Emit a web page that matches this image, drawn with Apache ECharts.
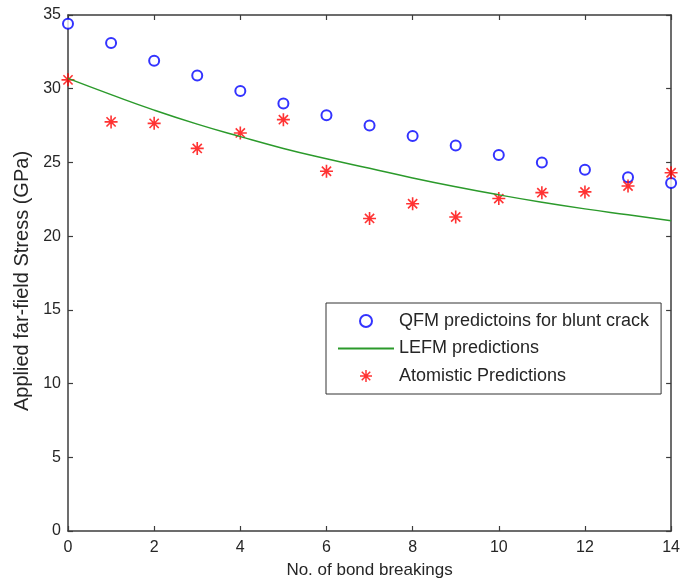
<!DOCTYPE html>
<html>
<head>
<meta charset="utf-8">
<script src="https://cdn.jsdelivr.net/npm/echarts@6/dist/echarts.min.js"></script>
<style>
html,body{margin:0;padding:0;background:#fff;}
#chart{width:683px;height:588px;}
</style>
</head>
<body>
<div id="chart"></div>
<script>
// ---- data ----
var bondBreakings = [0,1,2,3,4,5,6,7,8,9,10,11,12,13,14];
var qfmBlunt = [34.4, 33.1, 31.9, 30.9, 29.85, 29.0, 28.2, 27.5, 26.8, 26.15, 25.5, 25.0, 24.5, 24.0, 23.6];
var lefm = [30.7, 29.6, 28.55, 27.6, 26.75, 25.95, 25.25, 24.6, 23.95, 23.35, 22.8, 22.3, 21.85, 21.45, 21.05];
var atomistic = [30.6, 27.75, 27.65, 25.95, 27.0, 27.9, 24.4, 21.2, 22.2, 21.3, 22.55, 22.95, 23.0, 23.4, 24.3];
var seriesNames = ['QFM predictoins for blunt crack', 'LEFM predictions', 'Atomistic Predictions'];
var xTitle = 'No. of bond breakings';
var yTitle = 'Applied far-field Stress (GPa)';

function pairs(xs, ys){ return xs.map(function(x,i){ return [x, ys[i]]; }); }

var FONT = 'Liberation Sans, Arial, sans-serif';
var AX = '#3c3c3c';
var TXT = '#262626';
var asterisk = 'path://M0 10.5H24V13.5H0Z M10.5 0H13.5V24H10.5Z M4.57 2.45L21.55 19.43L19.43 21.55L2.45 4.57Z M2.45 19.43L19.43 2.45L21.55 4.57L4.57 21.55Z';

var chart = echarts.init(document.getElementById('chart'), null, {renderer:'canvas'});
var axisCommon = {
  axisLine:{show:true, onZero:false, lineStyle:{color:AX, width:1.5}},
  axisTick:{show:true, inside:true, length:5, lineStyle:{color:AX, width:1.2}},
  splitLine:{show:false}
};
chart.setOption({
  animation:false,
  backgroundColor:'#fff',
  grid:{left:68, right:9, top:15, bottom:57, containLabel:false},
  xAxis:[
    Object.assign({type:'value', position:'bottom', min:0, max:14, interval:2,
      name:xTitle, nameLocation:'middle', nameGap:31,
      nameTextStyle:{fontFamily:FONT, fontSize:17, color:TXT},
      axisLabel:{margin:9, fontFamily:FONT, fontSize:16, color:TXT}}, axisCommon),
    Object.assign({type:'value', position:'top', min:0, max:14, interval:2,
      axisLabel:{show:false}}, axisCommon)
  ],
  yAxis:[
    Object.assign({type:'value', position:'left', min:0, max:35, interval:5,
      name:yTitle, nameLocation:'middle', nameGap:36,
      nameTextStyle:{fontFamily:FONT, fontSize:20, color:TXT, padding:[0,16,0,0]},
      axisLabel:{margin:7, fontFamily:FONT, fontSize:16, color:TXT}}, axisCommon),
    Object.assign({type:'value', position:'right', min:0, max:35, interval:5,
      axisLabel:{show:false}}, axisCommon)
  ],
  legend:{
    orient:'vertical', left:326, top:303,
    padding:[9,12,9,11], itemGap:9.5, itemWidth:56, itemHeight:12,
    backgroundColor:'#fff', borderColor:'#333', borderWidth:1,
    textStyle:{fontFamily:FONT, fontSize:18, color:TXT},
    data:[
      {name:seriesNames[0]},
      {name:seriesNames[1], itemStyle:{color:'rgba(0,0,0,0)', borderColor:'rgba(0,0,0,0)', borderWidth:0, opacity:0}},
      {name:seriesNames[2]}
    ]
  },
  series:[
    {name:seriesNames[0], type:'scatter', data:pairs(bondBreakings, qfmBlunt),
      symbol:'emptyCircle', symbolSize:10, clip:false,
      itemStyle:{color:'#0000ff', borderColor:'#0000ff', borderWidth:1.5}},
    {name:seriesNames[1], type:'line', data:pairs(bondBreakings, lefm),
      smooth:true, showSymbol:false, symbol:'none', clip:false,
      lineStyle:{color:'#2b9a2b', width:1.5}, itemStyle:{color:'#2b9a2b'}},
    {name:seriesNames[2], type:'scatter', data:pairs(bondBreakings, atomistic),
      symbol:asterisk, symbolSize:13, clip:false,
      itemStyle:{color:'#ff0000'}}
  ]
});
</script>
</body>
</html>
